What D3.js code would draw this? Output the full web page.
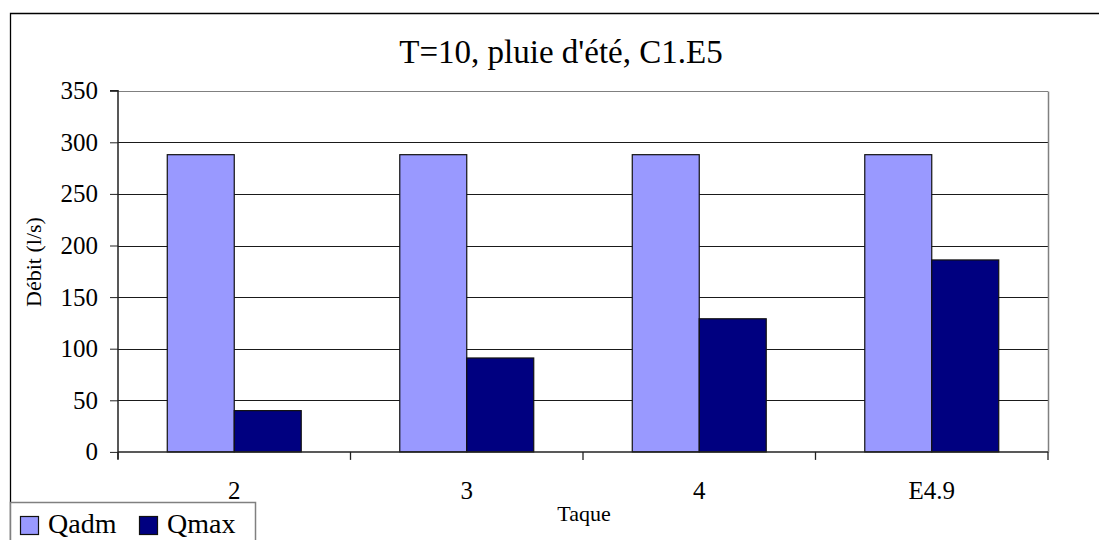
<!DOCTYPE html>
<html>
<head>
<meta charset="utf-8">
<script src="https://cdn.jsdelivr.net/npm/d3@7"></script>
<style>
html,body{margin:0;padding:0;background:#fff;}
svg{display:block;}
svg text{font-family:"Liberation Serif","DejaVu Serif",serif !important;fill:#000;}
</style>
</head>
<body>
<svg id="chart" width="1099" height="540"></svg>
<script>
const categories = ["2", "3", "4", "E4.9"];
const seriesNames = ["Qadm", "Qmax"];
const qadm = [288, 288, 288, 288];
const qmax = [40, 91, 129, 186];
const yTicks = [0, 50, 100, 150, 200, 250, 300, 350];
const seriesColors = ["#9999FF", "#000080"];

const svg = d3.select("#chart");
const W = 1099, H = 540;
const plot = {left: 118, right: 1048, top: 90.7, bottom: 451.9};

// outer chart border
svg.append("path")
  .attr("d", `M10.5,${H+5} V13.5 H${W+5}`)
  .attr("fill", "none").attr("stroke", "#000").attr("stroke-width", 1.3);

const x = d3.scaleBand().domain(categories).range([plot.left, plot.right]).paddingInner(0).paddingOuter(0);
const x1 = d3.scaleBand().domain(seriesNames).range([0, x.bandwidth()]).paddingInner(0).paddingOuter(0.7355);
const y = d3.scaleLinear().domain([0, 350]).range([plot.bottom, plot.top]);

// gridlines
svg.append("g").selectAll("line").data(yTicks.filter(d => d > 0)).join("line")
  .attr("x1", plot.left).attr("x2", plot.right)
  .attr("y1", d => Math.round(y(d)) + 0.5).attr("y2", d => Math.round(y(d)) + 0.5)
  .attr("stroke", d => d === 350 ? "#808080" : "#1a1a1a").attr("stroke-width", 1);

// right border of plot
svg.append("line").attr("x1", plot.right + 0.5).attr("x2", plot.right + 0.5)
  .attr("y1", Math.round(y(350)) + 0.5).attr("y2", Math.round(plot.bottom) + 0.5)
  .attr("stroke", "#808080").attr("stroke-width", 1.5);

// bars
const data = categories.map((c, i) => ({cat: c, vals: [qadm[i], qmax[i]]}));
const groups = svg.append("g").selectAll("g").data(data).join("g")
  .attr("transform", d => `translate(${x(d.cat)},0)`);
groups.selectAll("rect").data(d => d.vals.map((v, j) => ({name: seriesNames[j], v, j}))).join("rect")
  .attr("x", d => x1(d.name))
  .attr("width", x1.bandwidth())
  .attr("y", d => y(d.v))
  .attr("height", d => y(0) - y(d.v))
  .attr("fill", d => seriesColors[d.j])
  .attr("stroke", "#111").attr("stroke-width", 1.2);

// y axis
const yAxis = d3.axisLeft(y).tickValues(yTicks).tickSize(8).tickPadding(12).tickFormat(d3.format("d"));
const gy = svg.append("g").attr("transform", `translate(${plot.left},0)`).call(yAxis);
gy.attr("font-family", null).attr("font-size", null);
gy.select(".domain").attr("stroke", "#222").attr("stroke-width", 1.5).attr("d", `M-8,${plot.top}H0V${plot.bottom + 7}`);
gy.selectAll(".tick line").attr("stroke", "#222");
gy.selectAll(".tick text").attr("x", -20).style("font-size", "25px").attr("fill", "#000");

// x axis
const xAxis = d3.axisBottom(x).tickSize(0).tickPadding(0);
const gx = svg.append("g").attr("transform", `translate(0,${plot.bottom})`).call(xAxis);
gx.attr("font-family", null).attr("font-size", null);
gx.select(".domain").attr("stroke", "#222").attr("stroke-width", 1.5).attr("d", `M${plot.left},0H${plot.right}`);
gx.selectAll(".tick line").remove();
gx.selectAll(".tick text").attr("y", 47).attr("dy", null).style("font-size", "25px").attr("fill", "#000");
// x tick marks at band boundaries
const boundaries = categories.map(c => x(c)).concat([plot.right]);
svg.append("g").selectAll("line").data(boundaries).join("line")
  .attr("x1", d => d).attr("x2", d => d)
  .attr("y1", plot.bottom).attr("y2", plot.bottom + 8)
  .attr("stroke", "#222").attr("stroke-width", 1.3);

// title
svg.append("text").attr("x", 561).attr("y", 63).attr("text-anchor", "middle")
  .style("font-size", "33px").text("T=10, pluie d'été, C1.E5");

// axis titles
svg.append("text").attr("x", 584).attr("y", 521).attr("text-anchor", "middle")
  .style("font-size", "22px").text("Taque");
svg.append("text").attr("transform", "translate(41,262) rotate(-90)").attr("text-anchor", "middle")
  .style("font-size", "22px").text("Débit (l/s)");

// legend
const lg = svg.append("g");
lg.append("rect").attr("x", 10.5).attr("y", 502.5).attr("width", 245).attr("height", 60)
  .attr("fill", "#fff").attr("stroke", "#808080").attr("stroke-width", 1.5);
const legendX = [20, 139];
seriesNames.forEach((s, i) => {
  lg.append("rect").attr("x", legendX[i] + 0.5).attr("y", 516.5).attr("width", 18).attr("height", 18)
    .attr("fill", seriesColors[i]).attr("stroke", "#111").attr("stroke-width", 1.2);
  lg.append("text").attr("x", legendX[i] + 28).attr("y", 533).style("font-size", "28px").text(s);
});
</script>
</body>
</html>
